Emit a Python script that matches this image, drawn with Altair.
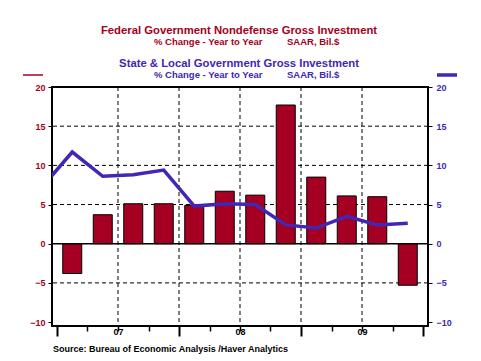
import altair as alt
import pandas as pd

# ---- data ----
quarters = ["2007Q1", "2007Q2", "2007Q3", "2007Q4",
            "2008Q1", "2008Q2", "2008Q3", "2008Q4",
            "2009Q1", "2009Q2", "2009Q3", "2009Q4"]
federal_nondefense = [-3.8, 3.7, 5.1, 5.1, 4.9, 6.7, 6.2, 17.7, 8.5, 6.1, 6.0, -5.3]

line_quarters = ["2006Q4"] + quarters
state_local = [7.2, 11.7, 8.6, 8.8, 9.4, 4.8, 5.1, 5.0, 2.4, 2.0, 3.5, 2.4, 2.6]

year_labels = ["07", "08", "09"]
y_ticks = [-10, -5, 0, 5, 10, 15, 20]
grid_y = [-5, 5, 10, 15]
grid_x = [2, 4, 6, 8, 10]

title1 = "Federal Government Nondefense Gross Investment"
title2 = "State & Local Government Gross Investment"
sub_left = "% Change - Year to Year"
sub_right = "SAAR, Bil.$"
source = "Source:  Bureau of Economic Analysis /Haver Analytics"

RED = "#A50021"
BLUE = "#4326B4"
FONT = "Liberation Sans"


def qpos(q):
    return (int(q[:4]) - 2007) * 4 + int(q[-1]) - 1 + 0.5


bars_df = pd.DataFrame({"q": quarters, "pos": [qpos(q) for q in quarters],
                        "value": federal_nondefense})
line_df = pd.DataFrame({"q": line_quarters, "pos": [qpos(q) for q in line_quarters],
                        "value": state_local})

xscale = alt.Scale(domain=[0, 12], nice=False, zero=False)
yscale = alt.Scale(domain=[-10.5, 20], nice=False, zero=False)

label_expr = " : ".join(
    f"datum.value == {4 * i + 2} ? '{lab}'" for i, lab in enumerate(year_labels)
) + " : ''"

x_axis = alt.Axis(
    values=list(range(13)), title=None, grid=False, domain=False,
    tickColor="black",
    tickSize={"condition": {"test": "datum.value % 4 == 0", "value": 10}, "value": 5},
    tickWidth={"condition": {"test": "datum.value % 4 == 0", "value": 2}, "value": 1.5},
    labelExpr=label_expr, labelPadding=-4, labelFont=FONT, labelFontSize=9,
    labelFontWeight="bold", labelColor="black", labelAngle=0, orient="bottom",
)

left_axis = alt.Axis(values=y_ticks, title=None, grid=False, domain=False,
                     tickSize=4, tickColor="black", labelColor=RED, labelFont=FONT,
                     labelFontSize=9, labelFontWeight="bold", labelPadding=3,
                     orient="left")
right_axis = alt.Axis(values=y_ticks, title=None, grid=False, domain=False,
                      tickSize=4, tickColor="black", labelColor=BLUE, labelFont=FONT,
                      labelFontSize=9, labelFontWeight="bold", labelPadding=4,
                      orient="right")

vgrid = alt.Chart(pd.DataFrame({"gx": grid_x})).mark_rule(
    color="black", strokeWidth=1, strokeDash=[4, 3]
).encode(x=alt.X("gx:Q", scale=xscale, axis=x_axis))

hgrid = alt.Chart(pd.DataFrame({"gy": grid_y})).mark_rule(
    color="black", strokeWidth=1, strokeDash=[4, 3]
).encode(y=alt.Y("gy:Q", scale=yscale, axis=None))

bars = alt.Chart(bars_df).mark_bar(
    size=19, color=RED, stroke="black", strokeWidth=1
).encode(
    x=alt.X("pos:Q", scale=xscale, axis=x_axis),
    y=alt.Y("value:Q", scale=yscale, axis=left_axis),
)

zero = alt.Chart(pd.DataFrame({"z": [0]})).mark_rule(
    color="black", strokeWidth=1.5
).encode(y=alt.Y("z:Q", scale=yscale, axis=None))

line = alt.Chart(line_df).mark_line(
    color=BLUE, strokeWidth=3.5, clip=True
).encode(
    x=alt.X("pos:Q", scale=xscale, axis=x_axis),
    y=alt.Y("value:Q", scale=yscale, axis=right_axis),
)


def txt(s, x, y, color, size, align="center"):
    return alt.Chart(pd.DataFrame({"t": [s]})).mark_text(
        font=FONT, fontSize=size, fontWeight="bold", color=color,
        align=align, baseline="middle"
    ).encode(text="t:N", x=alt.value(x), y=alt.value(y))


texts = [
    txt(title1, 187, -56, RED, 11.3),
    txt(sub_left, 102, -45, RED, 9.5, "left"),
    txt(sub_right, 235, -45, RED, 9.5, "left"),
    txt(title2, 187, -23, BLUE, 11.3),
    txt(sub_left, 102, -12, BLUE, 9.5, "left"),
    txt(sub_right, 235, -12, BLUE, 9.5, "left"),
    txt(source, 1, 262, "black", 9, "left"),
]

leg_red = alt.Chart(pd.DataFrame({"k": [1]})).mark_rule(
    color=RED, strokeWidth=1.5
).encode(x=alt.value(-29), x2=alt.value(-9), y=alt.value(-12))
leg_blue = alt.Chart(pd.DataFrame({"k": [1]})).mark_rule(
    color=BLUE, strokeWidth=3.5
).encode(x=alt.value(385), x2=alt.value(405), y=alt.value(-12))

chart = alt.layer(
    vgrid, hgrid, bars, zero, line, leg_red, leg_blue, *texts
).resolve_axis(y="independent").properties(
    width=376, height=239,
    autosize=alt.AutoSizeParams(type="none"),
    padding={"left": 44, "top": 79, "right": 45, "bottom": 30},
    background="white",
).configure_view(stroke="black", strokeWidth=2)

chart.save("out.html", embed_options={"renderer": "svg", "actions": False})
